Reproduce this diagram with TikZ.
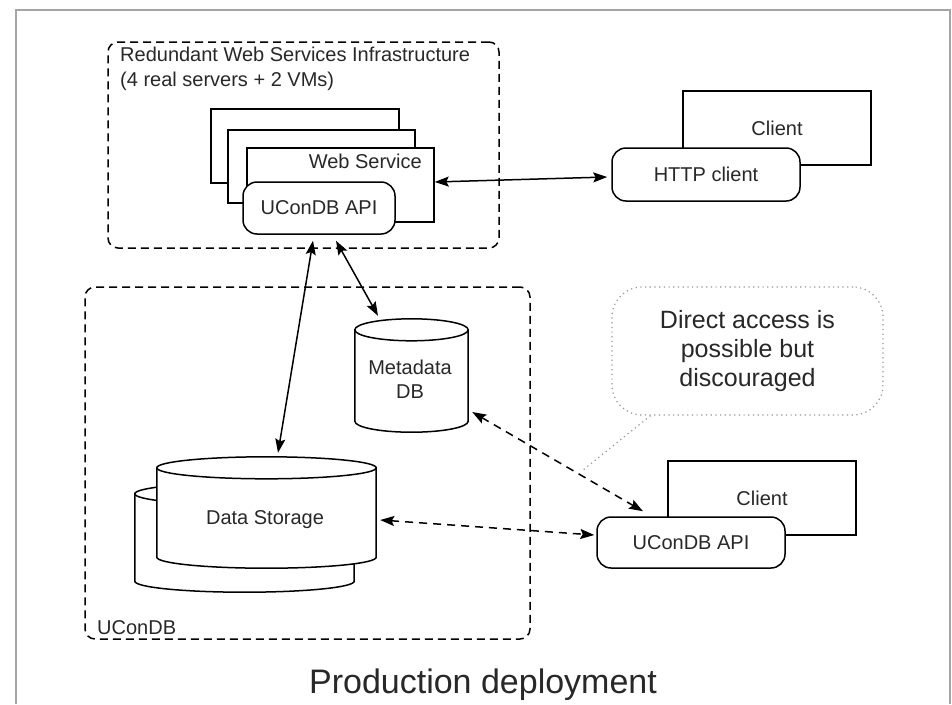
\documentclass[tikz,border=0pt]{standalone}
\usepackage{fontspec}
\setmainfont{Liberation Sans}
\usetikzlibrary{arrows.meta,calc}
\definecolor{txt}{RGB}{40,40,40}
\definecolor{framegray}{RGB}{165,165,165}
\definecolor{dotgray}{RGB}{150,150,150}
\begin{document}
\begin{tikzpicture}[x=1pt,y=-1pt,
  every node/.style={text=txt},
  f20/.style={font=\fontsize{20pt}{24pt}\selectfont},
  box/.style={draw=black,line width=1.5pt,fill=white,inner sep=0pt},
  rbox/.style={box,rounded corners=14pt},
  group/.style={draw=black,line width=1.5pt,dash pattern=on 8pt off 5pt,rounded corners=10pt,inner sep=0pt},
  ghost/.style={draw=none,inner sep=0pt},
  link/.style={line width=1.5pt,{Stealth[length=14pt,width=10pt,inset=2.5pt]}-{Stealth[length=14pt,width=10pt,inset=2.5pt]}},
  dlink/.style={link,dash pattern=on 8pt off 6pt},
  note/.style={draw=dotgray,line width=1.2pt,dash pattern=on 1.2pt off 3.5pt,rounded corners=30pt,inner sep=0pt,align=center,font=\fontsize{25pt}{29pt}\selectfont}
]
\useasboundingbox (0,0) rectangle (952,704);
\fill[white] (0,0) rectangle (952,704);
% outer frame
\draw[framegray,line width=2pt] (16,704) -- (16,10) -- (950,10) -- (950,704);

% groups
\node[group,minimum width=391pt,minimum height=206pt] (infra) at (303.5,145) {};
\node[f20,anchor=north west,align=left,inner sep=0pt] (infralbl) at (120,47) {Redundant Web Services Infrastructure\\[1pt](4 real servers + 2 VMs)};
\node[group,minimum width=445pt,minimum height=352pt] (ucondb) at (307.5,463) {};
\node[f20,anchor=base west,inner sep=0pt] (ucondblbl) at (97,634) {UConDB};

% web services
\node[box,minimum width=188pt,minimum height=74pt] (ws1) at (305,146) {};
\node[box,minimum width=187pt,minimum height=73pt] (ws2) at (321.5,166.5) {};
\node[box,minimum width=187pt,minimum height=74pt] (ws3) at (340.5,185) {};
\node[f20,anchor=base east,inner sep=0pt] (wslbl) at (422,168) {Web Service};
\node[rbox,f20,minimum width=152pt,minimum height=52pt] (api) at (319,208) {UConDB API};

% HTTP client
\node[box,f20,minimum width=188pt,minimum height=74pt] (client1) at (777,128) {Client};
\node[rbox,f20,minimum width=188pt,minimum height=53pt] (http) at (706,174.5) {HTTP client};

% direct client
\node[box,f20,minimum width=188pt,minimum height=74pt] (client2) at (762,498) {Client};
\node[rbox,f20,minimum width=188pt,minimum height=51pt] (api2) at (691,542.5) {UConDB API};

% cylinders
\node[ghost,minimum width=219pt,minimum height=109pt] (ds2) at (244.5,537.5) {};
\node[ghost,minimum width=219pt,minimum height=111pt] (ds) at (266.5,512.5) {};
\node[ghost,minimum width=113pt,minimum height=113pt] (meta) at (411.5,375.5) {};
\foreach \cyl in {ds2,ds,meta}{
  \path let \p1=(\cyl.north west), \p2=(\cyl.south east),
            \n1={(\x2-\x1)/2}, \n2={0.5523*(\x2-\x1)/2}, \n3={(\x1+\x2)/2},
            \n4={\y1-11pt}, \n5={\y2+11pt} in
    [draw=black,line width=1.5pt,fill=white]
    (\x1,\n4) -- (\x1,\n5)
      .. controls (\x1,\n5-6.075pt) and (\n3-\n2,\n5-11pt) .. (\n3,\n5-11pt)
      .. controls (\n3+\n2,\n5-11pt) and (\x2,\n5-6.075pt) .. (\x2,\n5)
      -- (\x2,\n4)
      .. controls (\x2,\n4+6.075pt) and (\n3+\n2,\n4+11pt) .. (\n3,\n4+11pt)
      .. controls (\n3-\n2,\n4+11pt) and (\x1,\n4+6.075pt) .. (\x1,\n4) -- cycle;
  \path let \p1=(\cyl.north west), \p2=(\cyl.south east),
            \n1={(\x2-\x1)/2}, \n2={0.5523*(\x2-\x1)/2}, \n3={(\x1+\x2)/2},
            \n4={\y1-11pt} in
    [draw=black,line width=1.5pt]
    (\x1,\n4)
      .. controls (\x1,\n4-6.075pt) and (\n3-\n2,\n4-11pt) .. (\n3,\n4-11pt)
      .. controls (\n3+\n2,\n4-11pt) and (\x2,\n4-6.075pt) .. (\x2,\n4);
}
\node[f20,anchor=base,inner sep=0pt] (dslbl) at (265,524) {Data Storage};
\node[f20,align=center,inner sep=0pt,anchor=base] (metalbl) at (410,398) {Metadata\\DB};

% note
\node[note,minimum width=271pt,minimum height=128pt] (callout) at (747.5,351) {Direct access is\\possible but\\discouraged};
\coordinate (tailend) at (583,470);
\draw[draw=dotgray,line width=1.2pt,dash pattern=on 1.2pt off 3.5pt] ([xshift=-97pt]callout.south) -- (tailend);

% connectors
\draw[link] ([yshift=3pt]ws3.east) -- ([xshift=-4pt,yshift=-2.5pt]http.west);
\draw[link] ([xshift=-6pt,yshift=-6pt]api.south) -- ([xshift=11.5pt,yshift=4pt]ds.north);
\draw[link] ([xshift=17pt,yshift=-6pt]api.south) -- ([xshift=-33.5pt,yshift=3pt]meta.north);
\draw[dlink] ([xshift=4pt,yshift=-36.5pt]meta.east) -- ([xshift=-48pt,yshift=5pt]api2.north);
\draw[dlink] ([xshift=4pt,yshift=-7.5pt]ds.east) -- ([xshift=-2pt,yshift=7.5pt]api2.west);

% title
\node[font=\fontsize{34pt}{40pt}\selectfont,anchor=base,inner sep=0pt] (title) at (483,693) {Production deployment};
\end{tikzpicture}
\end{document}
